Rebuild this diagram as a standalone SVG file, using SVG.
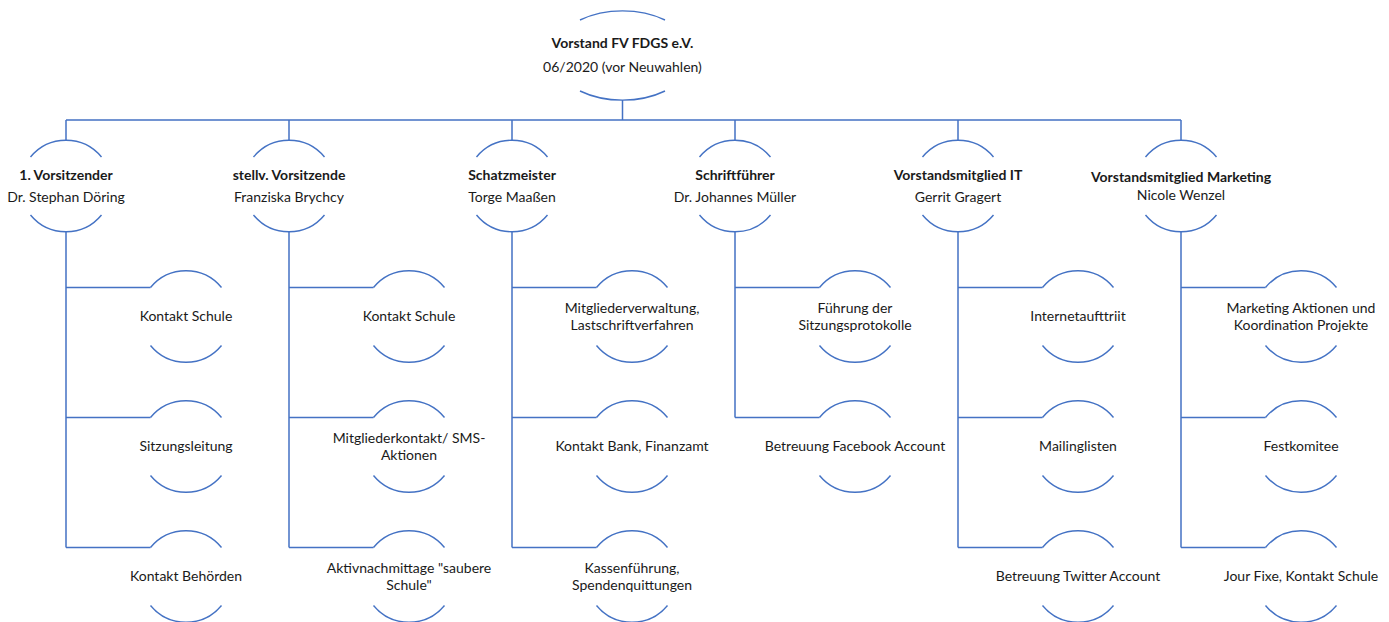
<svg xmlns="http://www.w3.org/2000/svg" width="1389" height="622" viewBox="0 0 1389 622">
<style>
.ln{fill:none;stroke:#4472C4;stroke-width:1.5}
.arc{fill:none;stroke:#4472C4;stroke-width:1.4}
text{font-family:Lato,"Liberation Sans",sans-serif;font-size:14px;fill:#1a1a1a;text-anchor:middle}
.b{font-weight:bold}
</style>
<rect width="1389" height="622" fill="#fff"/>
<g id="connectors" class="ln">
<path d="M622.5 100V120M66 120H1181"/>
<path d="M66 120V140M289 120V140M512 120V140M735 120V140M958 120V140M1181 120V140"/>
<path d="M66 232V547.5M66 287.5H150.5M66 417.5H150.5M66 547.5H150.5"/>
<path d="M289 232V547.5M289 287.5H373.5M289 417.5H373.5M289 547.5H373.5"/>
<path d="M512 232V547.5M512 287.5H596.5M512 417.5H596.5M512 547.5H596.5"/>
<path d="M735 232V417.5M735 287.5H819.5M735 417.5H819.5"/>
<path d="M958 232V547.5M958 287.5H1042.5M958 417.5H1042.5M958 547.5H1042.5"/>
<path d="M1181 232V547.5M1181 287.5H1265.5M1181 417.5H1265.5M1181 547.5H1265.5"/>
</g>
<defs>
<path id="l1" class="arc" d="M-35.5 -29A46 46 0 0 1 35.5 -29M-35.5 29A46 46 0 0 0 35.5 29"/>
</defs>
<g id="top">
<path class="arc" d="M580 20A70 44.5 0 0 1 665 20M580 91A70 44.5 0 0 0 665 91"/>
<text class="b" x="622.5" y="48">Vorstand FV FDGS e.V.</text>
<text x="622.5" y="72">06/2020 (vor Neuwahlen)</text>
</g>
<g id="n1"><use href="#l1" x="66" y="186"/><text class="b" x="66" y="180">1. Vorsitzender</text><text x="66" y="202">Dr. Stephan Döring</text></g>
<g id="n2"><use href="#l1" x="289" y="186"/><text class="b" x="289" y="180">stellv. Vorsitzende</text><text x="289" y="202">Franziska Brychcy</text></g>
<g id="n3"><use href="#l1" x="512" y="186"/><text class="b" x="512" y="180">Schatzmeister</text><text x="512" y="202">Torge Maaßen</text></g>
<g id="n4"><use href="#l1" x="735" y="186"/><text class="b" x="735" y="180">Schriftführer</text><text x="735" y="202">Dr. Johannes Müller</text></g>
<g id="n5"><use href="#l1" x="958" y="186"/><text class="b" x="958" y="180">Vorstandsmitglied IT</text><text x="958" y="202">Gerrit Gragert</text></g>
<g id="n6"><use href="#l1" x="1181" y="186"/><text class="b" x="1181" y="182">Vorstandsmitglied Marketing</text><text x="1181" y="200">Nicole Wenzel</text></g>

<g id="n1a"><use href="#l1" x="186" y="316.5"/><text x="186" y="321">Kontakt Schule</text></g>
<g id="n1b"><use href="#l1" x="186" y="446.5"/><text x="186" y="451">Sitzungsleitung</text></g>
<g id="n1c"><use href="#l1" x="186" y="576.5"/><text x="186" y="581">Kontakt Behörden</text></g>

<g id="n2a"><use href="#l1" x="409" y="316.5"/><text x="409" y="321">Kontakt Schule</text></g>
<g id="n2b"><use href="#l1" x="409" y="446.5"/><text x="409" y="443">Mitgliederkontakt/ SMS-</text><text x="409" y="459.5">Aktionen</text></g>
<g id="n2c"><use href="#l1" x="409" y="576.5"/><text x="409" y="573">Aktivnachmittage "saubere</text><text x="409" y="589.5">Schule"</text></g>

<g id="n3a"><use href="#l1" x="632" y="316.5"/><text x="632" y="313">Mitgliederverwaltung,</text><text x="632" y="329.5">Lastschriftverfahren</text></g>
<g id="n3b"><use href="#l1" x="632" y="446.5"/><text x="632" y="451">Kontakt Bank, Finanzamt</text></g>
<g id="n3c"><use href="#l1" x="632" y="576.5"/><text x="632" y="573">Kassenführung,</text><text x="632" y="589.5">Spendenquittungen</text></g>

<g id="n4a"><use href="#l1" x="855" y="316.5"/><text x="855" y="313">Führung der</text><text x="855" y="329.5">Sitzungsprotokolle</text></g>
<g id="n4b"><use href="#l1" x="855" y="446.5"/><text x="855" y="451">Betreuung Facebook Account</text></g>

<g id="n5a"><use href="#l1" x="1078" y="316.5"/><text x="1078" y="321">Internetaufttriit</text></g>
<g id="n5b"><use href="#l1" x="1078" y="446.5"/><text x="1078" y="451">Mailinglisten</text></g>
<g id="n5c"><use href="#l1" x="1078" y="576.5"/><text x="1078" y="581">Betreuung Twitter Account</text></g>

<g id="n6a"><use href="#l1" x="1301" y="316.5"/><text x="1301" y="313">Marketing Aktionen und</text><text x="1301" y="329.5">Koordination Projekte</text></g>
<g id="n6b"><use href="#l1" x="1301" y="446.5"/><text x="1301" y="451">Festkomitee</text></g>
<g id="n6c"><use href="#l1" x="1301" y="576.5"/><text x="1301" y="581">Jour Fixe, Kontakt Schule</text></g>
</svg>
